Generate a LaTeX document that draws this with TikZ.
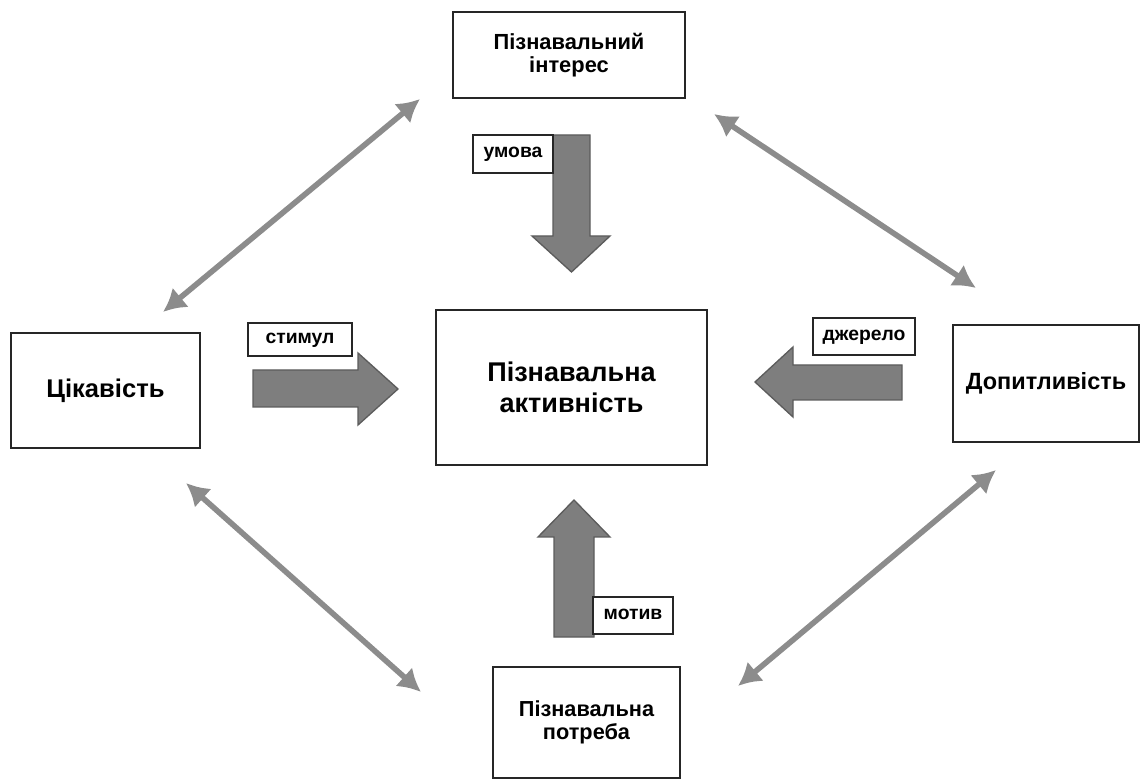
\documentclass[tikz,border=0pt]{standalone}
\usepackage{fontspec}
\setmainfont{Liberation Sans}
\usetikzlibrary{arrows.meta}
\definecolor{arrfill}{HTML}{7E7E7E}
\definecolor{arrdraw}{HTML}{5C5C5C}
\definecolor{diag}{HTML}{8C8C8C}
\tikzset{
  box/.style={draw=black!85, line width=1.1pt, fill=white, align=center, font=\bfseries, inner sep=2pt},
  lbl/.style={draw=black!85, line width=0.8pt, fill=white, font=\bfseries\fontsize{14.5}{16}\selectfont, inner sep=1pt, text height=1.05ex, text depth=0pt},
  blockarrow/.style={fill=arrfill, draw=arrdraw, line width=1pt, line join=miter},
  dbl/.style={draw=diag, line width=4.2pt, {Latex[length=17pt,width=19pt]}-{Latex[length=17pt,width=19pt]}}
}
\begin{document}
\begin{tikzpicture}[x=0.75pt,y=-0.75pt]
\useasboundingbox (0,0) rectangle (1143,780);
% boxes
\node[box, minimum width=174pt, minimum height=64.5pt, font=\bfseries\fontsize{16.4}{17.5}\selectfont] (interes) at (569,55) {Пізнавальний\\інтерес};
\node[box, minimum width=203pt, minimum height=116pt, font=\bfseries\fontsize{20.3}{23}\selectfont] (aktyv) at (571.5,387.5) {Пізнавальна\\активність};
\node[box, minimum width=141.75pt, minimum height=86.25pt, font=\bfseries\fontsize{19.2}{23}\selectfont] (tsikav) at (105.5,390.5) {Цікавість};
\node[box, minimum width=139.5pt, minimum height=87.75pt, font=\bfseries\fontsize{17.6}{22}\selectfont] (dopyt) at (1046,383.5) {Допитливість};
\node[box, minimum width=140.25pt, minimum height=83.25pt, font=\bfseries\fontsize{16.3}{17.5}\selectfont] (potreba) at (586.5,722.5) {Пізнавальна\\потреба};
% block arrows
\draw[blockarrow] (553,135) -- (590,135) -- (590,236) -- (610,236) -- (571.5,272) -- (532,236) -- (553,236) -- cycle;
\draw[blockarrow] (253,370) -- (358,370) -- (358,353) -- (398,389) -- (358,425) -- (358,407) -- (253,407) -- cycle;
\draw[blockarrow] (902,365) -- (793,365) -- (793,347) -- (755,382) -- (793,417) -- (793,400) -- (902,400) -- cycle;
\draw[blockarrow] (554,637) -- (554,537) -- (538,537) -- (574,500) -- (610,537) -- (594,537) -- (594,637) -- cycle;
% labels
\node[lbl, minimum width=60pt, minimum height=28.5pt] (umova) at (513,154) {умова};
\node[lbl, minimum width=78pt, minimum height=24.75pt] (stymul) at (300,339.5) {стимул};
\node[lbl, minimum width=76.5pt, minimum height=27.75pt] (dzherelo) at (864,336.5) {джерело};
\node[lbl, minimum width=60pt, minimum height=27.75pt] (motyv) at (633,615.5) {мотив};
% diagonal double arrows
\coordinate (tl1) at (163,312);
\coordinate (tl2) at (420,99);
\coordinate (tr1) at (714,114);
\coordinate (tr2) at (976,288);
\coordinate (bl1) at (186,483);
\coordinate (bl2) at (421,692);
\coordinate (br1) at (738,686);
\coordinate (br2) at (996,470);
\draw[dbl] (tl1) -- (tl2);
\draw[dbl] (tr1) -- (tr2);
\draw[dbl] (bl1) -- (bl2);
\draw[dbl] (br1) -- (br2);
\end{tikzpicture}
\end{document}
